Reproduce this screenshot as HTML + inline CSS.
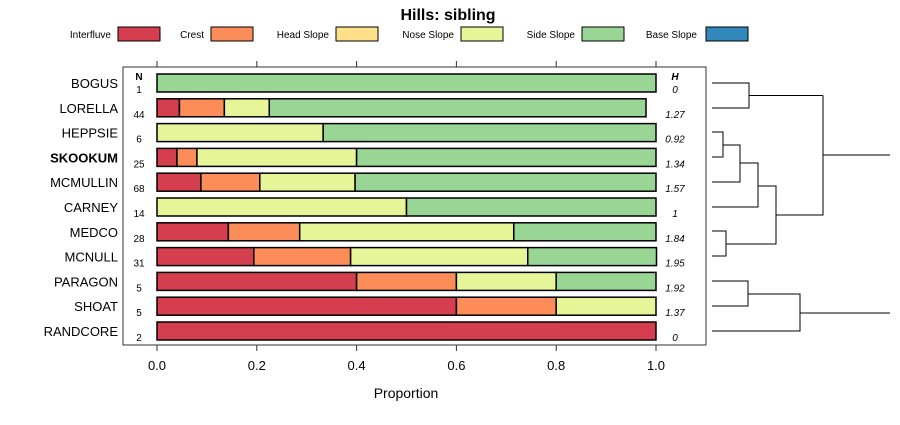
<!DOCTYPE html>
<html><head><meta charset="utf-8"><style>
body{margin:0;background:#fff;font-family:"Liberation Sans",sans-serif}
svg text{font-family:"Liberation Sans",sans-serif}
</style></head><body>
<svg width="900" height="420" xmlns="http://www.w3.org/2000/svg" id="chart">
<text x="448" y="20" font-size="16" font-weight="bold" text-anchor="middle">Hills: sibling</text>
<g id="legend"></g>
<rect x="123" y="67" width="583" height="278" fill="none" stroke="#333"/>
<g id="bars"></g>
<g id="axis"></g>
<text x="406" y="398" font-size="14" text-anchor="middle">Proportion</text>
<text x="139" y="80" font-size="10" font-weight="bold" text-anchor="middle">N</text>
<text x="675" y="80" font-size="10" font-weight="bold" font-style="italic" text-anchor="middle">H</text>
<g id="dendro" fill="none" stroke="#000" stroke-width="1">
<path d="M712 83H749V108H712M749 95.5H823"/>
<path d="M712 132H723V157H712M723 145H740V182H712M740 163H758V207H712M758 186H776V244H726M712 231H726V256H712M776 215H823V95.5M823 155H890"/>
<path d="M712 281H748V306H712M748 294H800V331H712M800 313H890"/>
</g>
</svg>
<script>
const categories=["BOGUS","LORELLA","HEPPSIE","SKOOKUM","MCMULLIN","CARNEY","MEDCO","MCNULL","PARAGON","SHOAT","RANDCORE"];
const nValues=[1,44,6,25,68,14,28,31,5,5,2];
const hValues=["0","1.27","0.92","1.34","1.57","1","1.84","1.95","1.92","1.37","0"];
const seriesNames=["Interfluve","Crest","Head Slope","Nose Slope","Side Slope","Base Slope"];
const interfluve=[0,0.045,0,0.04,0.088,0,0.143,0.194,0.4,0.6,1];
const crest=[0,0.09,0,0.04,0.118,0,0.143,0.194,0.2,0.2,0];
const headSlope=[0,0,0,0,0,0,0,0,0,0,0];
const noseSlope=[0,0.09,0.333,0.32,0.191,0.5,0.429,0.355,0.2,0.2,0];
const sideSlope=[1,0.755,0.667,0.6,0.603,0.5,0.285,0.258,0.2,0,0];
const baseSlope=[0,0,0,0,0,0,0,0,0,0,0];
const ticks=[0,0.2,0.4,0.6,0.8,1.0];
const colors=["#d53e4f","#fc8d59","#fee08b","#e6f598","#99d594","#3288bd"];
const NS="http://www.w3.org/2000/svg";
const x=v=>157+v*499;
const y=i=>83+i*24.8;
function mk(t,a,p){const e=document.createElementNS(NS,t);for(const k in a)e.setAttribute(k,a[k]);p.appendChild(e);return e;}
const series=[interfluve,crest,headSlope,noseSlope,sideSlope,baseSlope];
const bars=document.getElementById('bars');
categories.forEach((c,i)=>{
  let acc=0;
  series.forEach((s,k)=>{
    const v=s[i]; if(v<=0)return;
    const r=mk('rect',{x:x(acc),y:y(i)-9,width:x(acc+v)-x(acc),height:18,fill:colors[k],stroke:'#000','stroke-width':1.5},bars);
    
    
    acc+=v;
  });
  const t=mk('text',{x:118,y:y(i)+5,'font-size':13,'text-anchor':'end','font-weight':c==='SKOOKUM'?'bold':'normal'},bars);t.textContent=c;
  
  
  const n=mk('text',{x:139,y:y(i)+10,'font-size':10,'text-anchor':'middle'},bars);n.textContent=nValues[i];
  
  
  const h=mk('text',{x:675,y:y(i)+10,'font-size':10,'font-style':'italic','text-anchor':'middle'},bars);h.textContent=hValues[i];
  
  
});
const ax=document.getElementById('axis');
ticks.forEach(v=>{
  mk('line',{x1:x(v),x2:x(v),y1:345,y2:351,stroke:'#333'},ax);
  mk('line',{x1:x(v),x2:x(v),y1:61,y2:67,stroke:'#333'},ax);
  const t=mk('text',{x:x(v),y:370,'font-size':13,'text-anchor':'middle'},ax);t.textContent=v.toFixed(1);
  
  
});
const lg=document.getElementById('legend');
const textEnd=[111,204,329,454,575,697];
const boxX=[118,211,336,461,582,706];
seriesNames.forEach((s,k)=>{
  const t=mk('text',{x:textEnd[k],y:38,'font-size':10,'text-anchor':'end'},lg);t.textContent=s;
  
  
  const r=mk('rect',{x:boxX[k],y:27,width:42,height:14,fill:colors[k],stroke:'#000'},lg);
  
  
});
</script>
</body></html>
